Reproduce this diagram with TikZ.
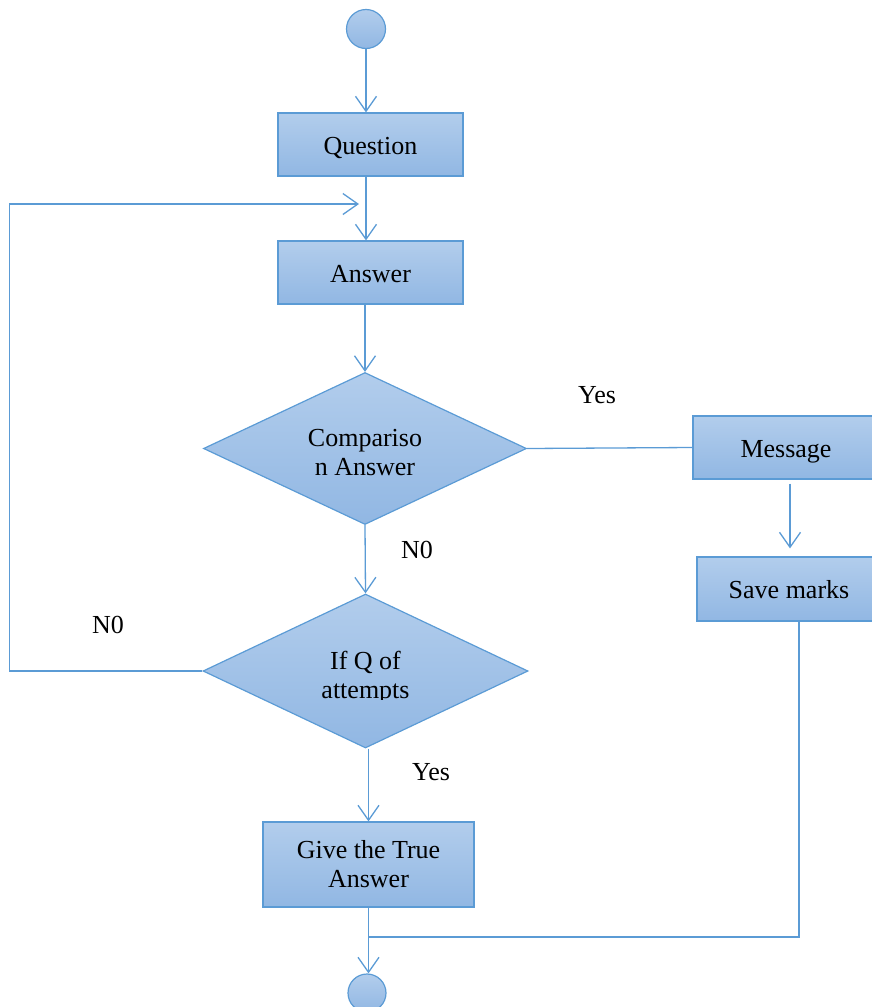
\documentclass[tikz,border=0pt]{standalone}
\usepackage{fontspec}
\setmainfont{Liberation Serif}
\usetikzlibrary{shapes.geometric,arrows.meta}
\definecolor{edgeblue}{RGB}{91,155,213}
\definecolor{filltop}{RGB}{178,205,236}
\definecolor{fillbot}{RGB}{145,183,227}

\begin{document}
\begin{tikzpicture}[x=1pt,y=-1pt,
  every node/.style={font=\fontsize{26}{29}\selectfont},
  shaded/.style={draw=edgeblue, line width=1.2pt, top color=filltop, bottom color=fillbot},
  flowbox/.style={shaded, rectangle, inner sep=0pt, align=center},
  oneline/.style={text height=19pt, text depth=0pt},
  decision/.style={shaded, diamond, inner sep=0pt, shape aspect=2},
  terminal/.style={shaded, circle, inner sep=0pt},
  conn/.style={draw=edgeblue, line width=1.3pt},
  arr/.style={conn, -{Straight Barb[length=15pt,width=21pt]}},
  txt/.style={align=center, inner sep=0pt}
]
\useasboundingbox (0,0) rectangle (872,1007);
\clip (0,0) rectangle (872,1007);

% main column
\node[terminal, minimum size=39pt] (start) at (366,29) {};
\node[flowbox, oneline, minimum width=185pt, minimum height=63pt] (q) at (370.5,144.5) {Question};
\node[flowbox, oneline, minimum width=185pt, minimum height=63pt] (a) at (370.5,272.5) {Answer};
\node[decision, minimum width=323pt, minimum height=152pt] (cmp) at (365,448.5) {};
\node[txt] (cmptxt) at (365,452.5) {Compariso\\n Answer};
\node[decision, minimum width=325pt, minimum height=154pt] (ifq) at (365.5,671) {};
\begin{scope}
  \clip (280,630) rectangle (450,699);
  \node[txt] (ifqtxt) at (365.5,677.4) {If Q of\\attempts};
\end{scope}
\node[flowbox, minimum width=211pt, minimum height=85pt] (give) at (368.5,864.5) {Give the True\\Answer};
\node[terminal, minimum size=38pt] (end) at (367,993) {};

% right column
\node[flowbox, oneline, minimum width=186pt, minimum height=63pt] (msg) at (786,447.5) {Message};
\node[flowbox, oneline, minimum width=184pt, minimum height=64pt] (save) at (789,589) {Save marks};

% branch labels
\node[txt] (yes1) at (597,395) {Yes};
\node[txt] (no1) at (417,550) {N0};
\node[txt] (no2) at (108,625) {N0};
\node[txt] (yes2) at (431,772) {Yes};

% connectors
\coordinate (loopin) at (359,204);
\coordinate (merge) at (368.5,937);
\draw[arr] (start.south) -- (start.south |- q.north);
\draw[arr] (q.south -| start) -- (a.north -| start);
\draw[arr] (a.south -| cmp.north) -- (cmp.north);
\draw[conn] (cmp.east) -- (msg.west);
\draw[arr] (cmp.south) -- (ifq.north);
\draw[arr] (ifq.west) -- ++(-193,0) |- (loopin);
\draw[arr] (ifq.south -| give.north) -- (give.north);
\draw[arr] ([xshift=4pt,yshift=-4pt]msg.south) -- ([xshift=1pt,yshift=8pt]save.north);
\draw[conn] ([xshift=10pt]save.south) |- (merge);
\draw[arr] (give.south) -- (give.south |- end.north);
\end{tikzpicture}
\end{document}
